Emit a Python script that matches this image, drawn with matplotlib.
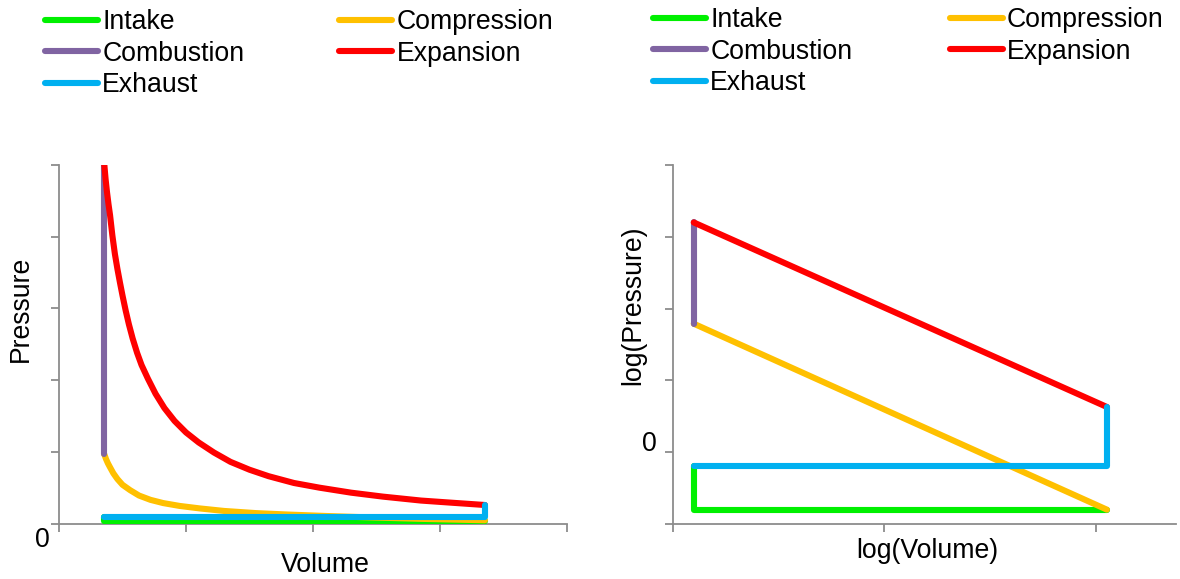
import matplotlib
matplotlib.use("Agg")
import matplotlib.pyplot as plt
from matplotlib.lines import Line2D

plt.rcParams['font.family'] = ['Liberation Sans', 'DejaVu Sans']

# ---------------- data: left (linear P-V) ----------------
lin_intake_v = [0.357, 0.357, 3.354]
lin_intake_p = [0.095, 0.04, 0.04]

lin_comp_v = [3.354, 2.85, 2.45, 2.10, 1.80, 1.55, 1.30, 1.11, 0.95, 0.82, 0.72,
              0.63, 0.56, 0.50, 0.46, 0.428, 0.40, 0.385, 0.37, 0.357]
lin_comp_p = [0.045, 0.065, 0.085, 0.105, 0.125, 0.145, 0.175, 0.21, 0.245, 0.285, 0.33,
              0.39, 0.465, 0.54, 0.62, 0.70, 0.79, 0.84, 0.90, 0.964]

lin_comb_v = [0.357, 0.357]
lin_comb_p = [0.964, 5.0]

lin_exp_v = [0.357, 0.367, 0.378, 0.39, 0.402, 0.42, 0.44, 0.46, 0.48, 0.50,
             0.525, 0.55, 0.58, 0.615, 0.65, 0.70, 0.76, 0.83, 0.91, 1.00,
             1.10, 1.22, 1.35, 1.50, 1.65, 1.85, 2.05, 2.30, 2.55, 2.85, 3.10, 3.354]
lin_exp_p = [5.0, 4.80, 4.62, 4.45, 4.30, 4.02, 3.76, 3.55, 3.36, 3.18,
             2.97, 2.78, 2.58, 2.38, 2.21, 2.02, 1.81, 1.61, 1.43, 1.27,
             1.13, 0.99, 0.86, 0.75, 0.66, 0.565, 0.50, 0.43, 0.375, 0.32, 0.289, 0.258]

lin_exh_v = [3.354, 3.354, 0.357]
lin_exh_p = [0.258, 0.095, 0.095]

# ---------------- data: right (log P - log V) ----------------
log_intake_v = [0.098, 0.098, 2.053]
log_intake_p = [-0.19, -0.80, -0.80]

log_comp_v = [2.053, 0.098]
log_comp_p = [-0.80, 1.79]

log_comb_v = [0.098, 0.098]
log_comb_p = [1.79, 3.20]

log_exp_v = [0.098, 2.053]
log_exp_p = [3.20, 0.63]

log_exh_v = [2.053, 2.053, 0.098]
log_exh_p = [0.63, -0.19, -0.19]

labels = ["Intake", "Compression", "Combustion", "Expansion", "Exhaust"]
colors = ["#00F000", "#FFC000", "#8064A2", "#FF0000", "#00B0F0"]

W, H = 1180, 579
fig = plt.figure(figsize=(W / 100, H / 100), dpi=100)

axis_gray = "#8C8C8C"
FS = 19.2
LW = 4.4


def px_axes(x0, x1, ytop, ybot):
    return fig.add_axes([x0 / W, (H - ybot) / H, (x1 - x0) / W, (ybot - ytop) / H])


def style(ax):
    for s in ["top", "right"]:
        ax.spines[s].set_visible(False)
    for s in ["left", "bottom"]:
        ax.spines[s].set_color(axis_gray)
        ax.spines[s].set_linewidth(1.3)
    ax.tick_params(direction="out", length=5.5, width=1.3, color=axis_gray,
                   labelleft=False, labelbottom=False)


def draw(ax, series):
    handles = []
    for i, ((v, p), lab, c) in enumerate(zip(series, labels, colors)):
        h, = ax.plot(v, p, color=c, lw=LW, label=lab, zorder=3 + i,
                     solid_capstyle="round", solid_joinstyle="round")
        handles.append(h)
    return handles


# left panel
axL = px_axes(59, 567, 165, 523.5)
hL = draw(axL, [(lin_intake_v, lin_intake_p), (lin_comp_v, lin_comp_p),
                (lin_comb_v, lin_comb_p), (lin_exp_v, lin_exp_p),
                (lin_exh_v, lin_exh_p)])
axL.set_xlim(0, 4)
axL.set_ylim(0, 5)
axL.set_xticks([0, 1, 2, 3, 4])
axL.set_yticks([0, 1, 2, 3, 4, 5])
style(axL)
axL.set_xlabel("Volume", fontsize=FS)
axL.set_ylabel("Pressure", fontsize=FS)
axL.xaxis.set_label_coords(0.524, -0.08)
axL.yaxis.set_label_coords(-0.05, 0.60)
axL.annotate("0", xy=(0, 0), xytext=(-12, -12), textcoords="offset points",
             fontsize=FS, ha="center", va="center")

# right panel
axR = px_axes(673, 1176, 165, 524)
hR = draw(axR, [(log_intake_v, log_intake_p), (log_comp_v, log_comp_p),
                (log_comb_v, log_comb_p), (log_exp_v, log_exp_p),
                (log_exh_v, log_exh_p)])
axR.set_xlim(0, 2.38)
axR.set_ylim(-1, 4)
axR.set_xticks([0, 1, 2])
axR.set_yticks([-1, 0, 1, 2, 3, 4])
style(axR)
axR.set_xlabel("log(Volume)", fontsize=FS)
axR.set_ylabel("log(Pressure)", fontsize=FS)
axR.xaxis.set_label_coords(0.505, -0.04)
axR.yaxis.set_label_coords(-0.054, 0.61)
axR.annotate("0", xy=(0, 0), xytext=(-17, 6), textcoords="offset points",
             fontsize=FS, ha="center", va="center")

# legends (row-major order across 2 columns)
order = [0, 2, 4, 1, 3]


def make_legend(handles, x_px, y_px, colsp):
    hs = [Line2D([0], [0], color=handles[i].get_color(), lw=LW,
                 solid_capstyle="round") for i in order]
    ls = [labels[i] for i in order]
    return fig.legend(hs, ls, loc="upper left",
                      bbox_to_anchor=(x_px / W, 1 - y_px / H),
                      ncol=2, frameon=False, fontsize=FS, borderpad=0,
                      borderaxespad=0, handlelength=2.0, handletextpad=0.15,
                      columnspacing=colsp, labelspacing=0.215)


make_legend(hL, 45, 9, 3.55)
make_legend(hR, 653, 7, 3.64)

fig.savefig("out.png", dpi=100)
